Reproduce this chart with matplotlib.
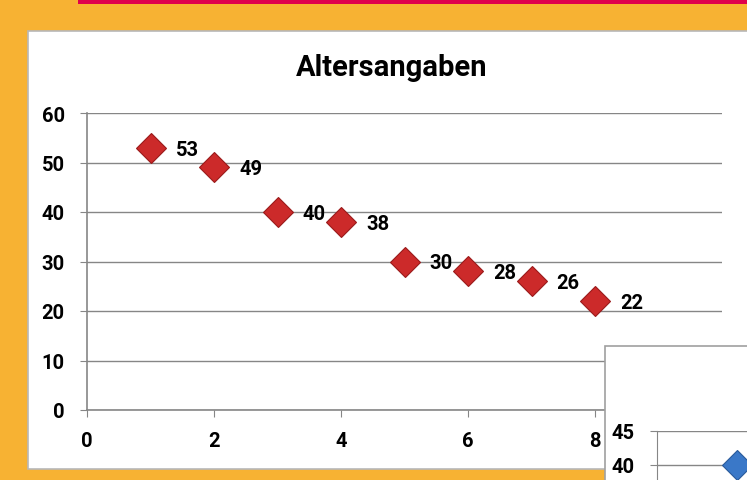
import matplotlib.pyplot as plt
from matplotlib.patches import Rectangle

# data of the chart
x_vals = [1, 2, 3, 4, 5, 6, 7, 8]
ages = [53, 49, 40, 38, 30, 28, 26, 22]
x_ticks = [0, 2, 4, 6, 8, 10]
y_ticks = [0, 10, 20, 30, 40, 50, 60]
title = 'Altersangaben'

# second chart, only its corner is visible
x2_vals = [1]
y2_vals = [40]
y2_ticks = [40, 45]

W, H = 747, 481
fig = plt.figure(figsize=(W / 100, H / 100), dpi=100)
fig.patch.set_facecolor('#F7B233')

def px_rect(x0, y0, x1, y1, z, **kw):
    # rectangle in pixel coords (y from top)
    r = Rectangle((x0 / W, 1 - y1 / H), (x1 - x0) / W, (y1 - y0) / H,
                  transform=fig.transFigure, zorder=z, **kw)
    fig.patches.append(r)

px_rect(78, 0, W, 4.5, -2, facecolor='#E0004D', edgecolor='none')
px_rect(28, 32, W + 5, 470, -1, facecolor='white', edgecolor='#B8B8B8', linewidth=1.2)

font = 'Roboto'
wt = 'bold'
fs = 14.5
gray = '#868686'

ax = fig.add_axes([87 / W, 1 - 411 / H, (722 - 87) / W, (411 - 114) / H])
ax.set_zorder(1)
ax.set_facecolor('none')
ax.plot(x_vals, ages, linestyle='none', marker='D', markersize=15,
        markerfacecolor='#CC2A2A', markeredgecolor='#9A1A1A', markeredgewidth=0.8)
for xv, yv in zip(x_vals, ages):
    ax.annotate(str(yv), (xv, yv), xytext=(18, -1), textcoords='offset points',
                ha='left', va='center', fontsize=fs, fontweight=wt, family=font)
ax.set_xlim(0, 10)
ax.set_ylim(0, 60)
ax.set_xticks(x_ticks)
ax.set_yticks(y_ticks)
ax.set_xticklabels([str(t) for t in x_ticks], fontsize=fs, fontweight=wt, family=font)
ax.set_yticklabels([str(t) for t in y_ticks], fontsize=fs, fontweight=wt, family=font)
ax.grid(axis='y', color=gray, linewidth=1)
ax.set_axisbelow(True)
for s in ['top', 'right']:
    ax.spines[s].set_visible(False)
for s in ['left', 'bottom']:
    ax.spines[s].set_color(gray)
    ax.spines[s].set_linewidth(1.2)
ax.tick_params(axis='x', direction='out', length=5, color=gray, pad=10)
ax.tick_params(axis='y', direction='out', length=5, color=gray, pad=11)
fig.text(392 / W, 1 - 68 / H, title, fontsize=21, fontweight=wt, family=font,
         ha='center', va='center')

# overlapping second chart
px_rect(605, 347, W + 5, H + 5, 2, facecolor='white', edgecolor='#A0A0A0', linewidth=1.2)
ax2 = fig.add_axes([657 / W, 1 - (432 + 34 * 9) / H, 300 / W, (34 * 9) / H])
ax2.set_zorder(3)
ax2.set_facecolor('none')
ax2.plot(x2_vals, y2_vals, linestyle='none', marker='D', markersize=15,
         markerfacecolor='#3A78C8', markeredgecolor='#2A5A9A', markeredgewidth=0.8)
ax2.set_xlim(0, 3.75)
ax2.set_ylim(0, 45)
ax2.set_yticks(y2_ticks)
ax2.set_yticklabels([str(t) for t in y2_ticks], fontsize=fs, fontweight=wt, family=font)
ax2.set_xticks([])
ax2.grid(axis='y', color=gray, linewidth=1)
ax2.set_axisbelow(True)
for s in ['top', 'right', 'bottom']:
    ax2.spines[s].set_visible(False)
ax2.spines['left'].set_color(gray)
ax2.tick_params(axis='y', direction='out', length=5, color=gray, pad=11)

fig.savefig('out.png', dpi=100, facecolor=fig.get_facecolor())
